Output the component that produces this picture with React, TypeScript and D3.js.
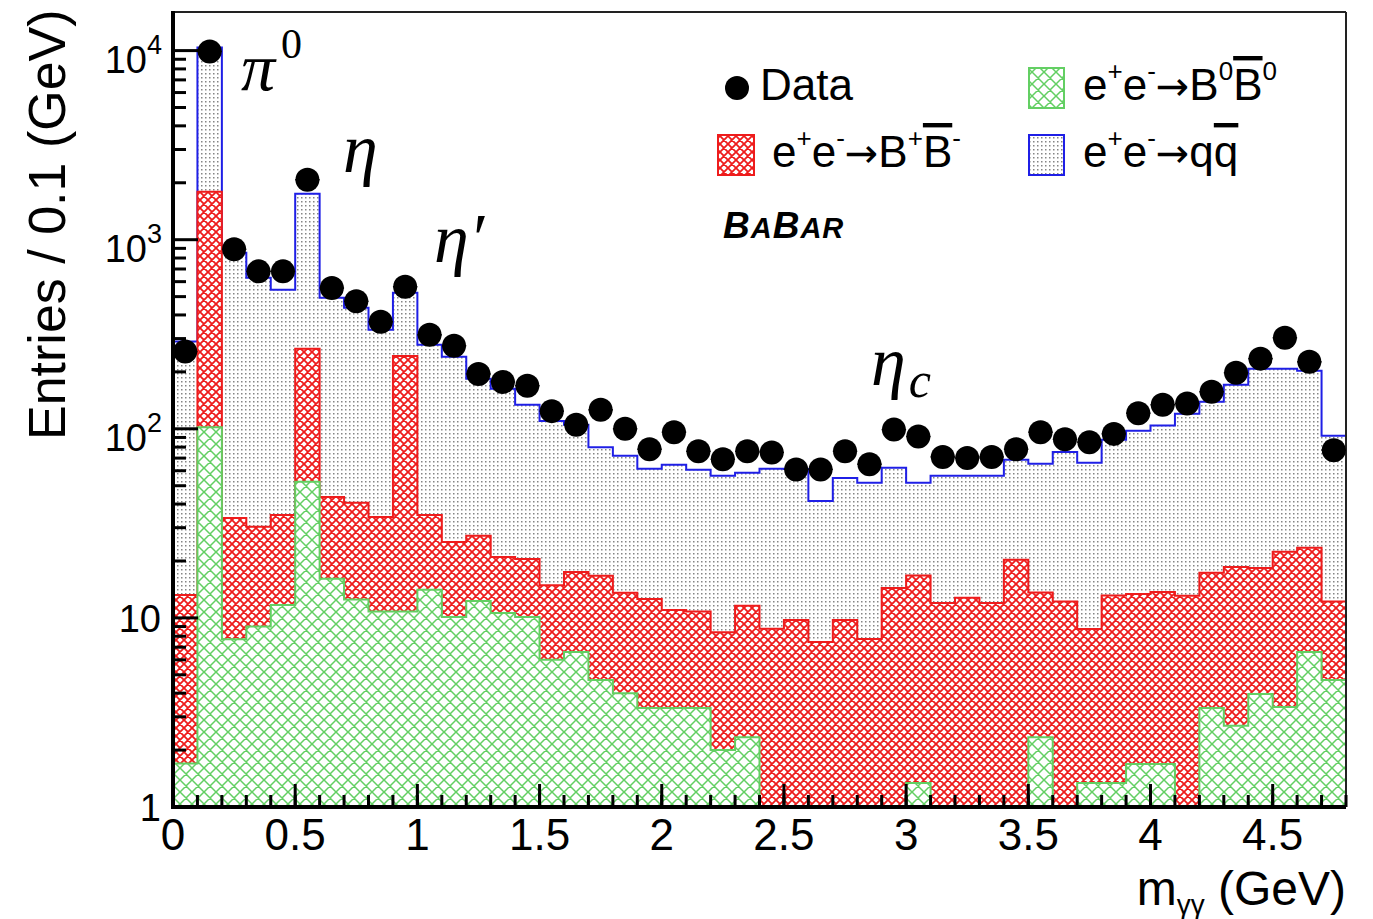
import React from 'react';
import * as d3 from 'd3';

// ---------------- data ----------------
const N_BINS = 48;
const BIN_WIDTH = 0.1;
const X_MAX = 4.8;
const Y_MIN = 1;
const Y_MAX = 16000;

// Observed entries per 0.1 GeV bin
const dataCounts = [
  256, 9900, 890, 680, 680, 2076, 555, 472, 368, 564,
  314, 275, 195, 177, 169, 124, 105, 126, 100, 78,
  96, 76, 69, 76, 75, 61, 61, 76, 65, 99,
  91, 71, 70, 71, 78, 96, 88, 85, 94, 121,
  134, 136, 157, 198, 235, 303, 226, 77,
];

// MC: e+e- -> B0 B0bar (bottom of stack)
const bbNeutral = [
  1.7, 102, 7.7, 9.0, 11.7, 52.5, 16.1, 12.5, 10.8, 10.8,
  14.1, 10.1, 12.3, 10.6, 10.1, 6.0, 6.6, 4.7, 4.0, 3.34,
  3.34, 3.34, 2.0, 2.34, 0, 0, 0, 0, 0, 0,
  1.34, 0, 0, 0, 0, 2.34, 0, 1.34, 1.34, 1.69,
  1.69, 0, 3.34, 2.69, 3.96, 3.38, 6.6, 4.7,
];

// MC: e+e- -> B+ B-
const bbCharged = [
  11.5, 1693, 26.1, 21.3, 23.3, 212.5, 27.5, 28.1, 23.4, 232,
  20.9, 15.1, 14.9, 10.4, 10.4, 8.9, 10.9, 12.0, 9.6, 9.26,
  7.66, 7.46, 6.4, 9.26, 8.75, 9.76, 7.46, 9.76, 7.74, 14.4,
  15.4, 12.0, 12.8, 12.0, 20.3, 11.3, 12.2, 7.4, 11.8, 11.7,
  12.0, 13.1, 14.0, 15.9, 14.4, 19.0, 16.9, 7.5,
];

// MC: e+e- -> q qbar (top of stack)
const qqbar = [
  276, 8575, 819, 599, 508, 1485, 449, 396, 300, 281,
  243, 215, 157, 142, 113.5, 95, 87.5, 63.3, 58.4, 48.8,
  53.5, 49.9, 48, 46.9, 52.65, 51.6, 34.1, 45.2, 44.1, 47.8,
  35.1, 44.4, 43.6, 44.4, 48.2, 51.7, 63.3, 57.3, 74.4, 84.2,
  90.3, 106.9, 121.7, 152.4, 189.6, 185.6, 179.5, 79.8,
];

const xMajorTicks = [0, 0.5, 1, 1.5, 2, 2.5, 3, 3.5, 4, 4.5];
const xTickLabels = ['0', '0.5', '1', '1.5', '2', '2.5', '3', '3.5', '4', '4.5'];
const yMajorTicks = [1, 10, 100, 1000, 10000];
const yTickBase = ['1', '10', '10', '10', '10'];
const yTickExp = ['', '', '2', '3', '4'];

const SANS = 'Liberation Sans, Arial, Helvetica, sans-serif';
const SERIF = 'Liberation Serif, Times New Roman, serif';
const ARROW_FONT = 'DejaVu Sans, sans-serif';

const RED = '#ee1c1c';
const GREEN = '#63cf63';
const BLUE = '#1f1fe6';

export default function App() {
  const W = 1373;
  const H = 919;
  const frame = { left: 173, right: 1346, top: 12, bottom: 807 };

  const x = d3.scaleLinear().domain([0, X_MAX]).range([frame.left, frame.right]);
  const y = d3.scaleLog().domain([Y_MIN, Y_MAX]).range([frame.bottom, frame.top]).clamp(true);

  const binEdges = d3.range(N_BINS + 1).map((i) => i * BIN_WIDTH);
  const rows = d3.range(N_BINS).map((i) => ({ b0: bbNeutral[i], bpm: bbCharged[i], qq: qqbar[i] }));
  const stacked = d3.stack<any>().keys(['b0', 'bpm', 'qq'])(rows);
  const topsOf = (k: number) => {
    const arr = stacked[k].map((d) => d[1]);
    return [...arr, arr[arr.length - 1]];
  };

  const area = d3
    .area<number>()
    .curve(d3.curveStepAfter)
    .x((_, i) => x(binEdges[i]))
    .y0(y(Y_MIN))
    .y1((v) => y(Math.max(v, Y_MIN)));

  const greenPath = area(topsOf(0)) || '';
  const redPath = area(topsOf(1)) || '';
  const grayPath = area(topsOf(2)) || '';

  // minor y ticks
  const yMinor: number[] = [];
  for (let d = 0; d <= 4; d++) {
    for (let k = 2; k <= 9; k++) {
      const v = k * Math.pow(10, d);
      if (v <= Y_MAX) yMinor.push(v);
    }
  }
  const xMinor = d3.range(0, N_BINS + 1).map((i) => i * BIN_WIDTH).filter((v) => v <= X_MAX + 1e-9);

  const supSize = 26;
  const legFont = 44;

  return (
    <svg
      width={W}
      height={H}
      viewBox={`0 0 ${W} ${H}`}
      style={{ position: 'absolute', left: 0, top: 0, background: '#fff' }}
    >
      <defs>
        <pattern id="dots" patternUnits="userSpaceOnUse" width={4} height={4}>
          <rect width={4} height={4} fill="#fff" />
          <rect x={1} y={1} width={1.5} height={1.5} fill="#858585" />
        </pattern>
        <pattern id="redHatch" patternUnits="userSpaceOnUse" width={8} height={8}>
          <rect width={8} height={8} fill="#fff" />
          <path d="M0,0 L8,8 M0,8 L8,0 M-1,1 L1,-1 M7,9 L9,7 M-1,7 L1,9 M7,-1 L9,1" stroke={RED} strokeWidth={1.8} />
        </pattern>
        <pattern id="greenHatch" patternUnits="userSpaceOnUse" width={12} height={12}>
          <rect width={12} height={12} fill="#fff" />
          <path d="M0,0 L12,12 M0,12 L12,0 M-1,1 L1,-1 M11,13 L13,11 M-1,11 L1,13 M11,-1 L13,1" stroke={GREEN} strokeWidth={1.5} />
        </pattern>
        <clipPath id="plotClip">
          <rect x={frame.left} y={frame.top} width={frame.right - frame.left} height={frame.bottom - frame.top} />
        </clipPath>
      </defs>

      {/* stacked histograms */}
      <g clipPath="url(#plotClip)">
        <path d={grayPath} fill="url(#dots)" stroke={BLUE} strokeWidth={2} />
        <path d={redPath} fill="url(#redHatch)" stroke={RED} strokeWidth={2} />
        <path d={greenPath} fill="url(#greenHatch)" stroke={GREEN} strokeWidth={2} />
      </g>

      {/* frame */}
      <line x1={frame.left} x2={frame.right} y1={frame.top} y2={frame.top} stroke="#222" strokeWidth={2} />
      <line x1={frame.right} x2={frame.right} y1={frame.top} y2={frame.bottom} stroke="#222" strokeWidth={2} />

      {/* y ticks */}
      {yMajorTicks.map((v) => (
        <line key={'ym' + v} x1={frame.left} x2={frame.left + 25} y1={y(v)} y2={y(v)} stroke="#000" strokeWidth={3} />
      ))}
      {yMinor.map((v) => (
        <line key={'yn' + v} x1={frame.left} x2={frame.left + 13} y1={y(v)} y2={y(v)} stroke="#000" strokeWidth={3} />
      ))}
      {/* x ticks */}
      {xMinor.map((v, i) => (
        <line key={'xn' + i} x1={x(v)} x2={x(v)} y1={frame.bottom} y2={frame.bottom - 12} stroke="#000" strokeWidth={3} />
      ))}
      {xMajorTicks.map((v) => (
        <line key={'xm' + v} x1={x(v)} x2={x(v)} y1={frame.bottom} y2={frame.bottom - 23} stroke="#000" strokeWidth={3} />
      ))}

      {/* axes */}
      <line x1={frame.left} x2={frame.left} y1={frame.top - 1} y2={frame.bottom + 2} stroke="#000" strokeWidth={4} />
      <line x1={frame.left - 2} x2={frame.right} y1={frame.bottom} y2={frame.bottom} stroke="#000" strokeWidth={4} />

      {/* x tick labels */}
      {xMajorTicks.map((v, i) => (
        <text key={'xl' + v} x={x(v)} y={frame.bottom + 43} textAnchor="middle" fontFamily={SANS} fontSize={44} fill="#000">
          {xTickLabels[i]}
        </text>
      ))}

      {/* y tick labels */}
      {yMajorTicks.map((v, i) =>
        yTickExp[i] ? (
          <text key={'yl' + v} x={frame.left - 11} y={y(v) + 22} textAnchor="end" fontFamily={SANS} fontSize={38} fill="#000">
            {yTickBase[i]}
            <tspan fontSize={27} dy={-19}>{yTickExp[i]}</tspan>
          </text>
        ) : (
          <text key={'yl' + v} x={frame.left - 12} y={y(v) + 14} textAnchor="end" fontFamily={SANS} fontSize={38} fill="#000">
            {yTickBase[i]}
          </text>
        )
      )}

      {/* axis titles */}
      <text
        transform={`translate(65, 440) rotate(-90)`}
        textAnchor="start"
        fontFamily={SANS}
        fontSize={52}
        fill="#000"
      >
        Entries / 0.1 (GeV)
      </text>
      <text x={frame.right} y={905} textAnchor="end" fontFamily={SANS} fontSize={48} fill="#000">
        m<tspan fontSize={28} dy={9}>γγ</tspan>
        <tspan dy={-9}> (GeV)</tspan>
      </text>

      {/* data points */}
      <g>
        {dataCounts.map((n, i) => {
          const cx = x(binEdges[i] + BIN_WIDTH / 2);
          const cy = y(n);
          const err = Math.sqrt(n);
          return (
            <g key={'d' + i}>
              <line x1={x(binEdges[i])} x2={x(binEdges[i + 1])} y1={cy} y2={cy} stroke="#000" strokeWidth={1.5} />
              <line x1={cx} x2={cx} y1={y(n + err)} y2={y(Math.max(n - err, Y_MIN))} stroke="#000" strokeWidth={1.5} />
              <circle cx={cx} cy={cy} r={12} fill="#000" />
            </g>
          );
        })}
      </g>

      {/* legend */}
      <g fontFamily={SANS} fill="#000">
        <circle cx={737} cy={88} r={12} fill="#000" />
        <text x={760} y={100} fontSize={legFont}>Data</text>

        <rect x={718} y={135} width={36} height={40} fill="url(#redHatch)" stroke={RED} strokeWidth={2} />
        <text x={772} y={167} fontSize={legFont}>
          e<tspan fontSize={supSize} dy={-20}>+</tspan>
          <tspan dy={20}>e</tspan>
          <tspan fontSize={supSize} dy={-20}>-</tspan>
          <tspan dy={20} fontFamily={ARROW_FONT} fontSize={40}>→</tspan>
          <tspan>B</tspan>
          <tspan fontSize={supSize} dy={-20}>+</tspan>
          <tspan dy={20} style={{ textDecoration: 'overline' }}>B</tspan>
          <tspan fontSize={supSize} dy={-20}>-</tspan>
        </text>

        <rect x={1029} y={68} width={35} height={40} fill="url(#greenHatch)" stroke={GREEN} strokeWidth={2} />
        <text x={1083} y={100} fontSize={legFont}>
          e<tspan fontSize={supSize} dy={-20}>+</tspan>
          <tspan dy={20}>e</tspan>
          <tspan fontSize={supSize} dy={-20}>-</tspan>
          <tspan dy={20} fontFamily={ARROW_FONT} fontSize={40}>→</tspan>
          <tspan>B</tspan>
          <tspan fontSize={supSize} dy={-20}>0</tspan>
          <tspan dy={20} style={{ textDecoration: 'overline' }}>B</tspan>
          <tspan fontSize={supSize} dy={-20}>0</tspan>
        </text>

        <rect x={1029} y={135} width={35} height={40} fill="url(#dots)" stroke={BLUE} strokeWidth={2} />
        <text x={1083} y={167} fontSize={legFont}>
          e<tspan fontSize={supSize} dy={-20}>+</tspan>
          <tspan dy={20}>e</tspan>
          <tspan fontSize={supSize} dy={-20}>-</tspan>
          <tspan dy={20} fontFamily={ARROW_FONT} fontSize={40}>→</tspan>
          <tspan>q</tspan>
          <tspan style={{ textDecoration: 'overline' }}>q</tspan>
        </text>

        <text x={723} y={238} fontWeight="bold" fontStyle="italic" letterSpacing={1}>
          <tspan fontSize={37}>B</tspan>
          <tspan fontSize={29}>A</tspan>
          <tspan fontSize={37}>B</tspan>
          <tspan fontSize={29}>AR</tspan>
        </text>
      </g>

      {/* resonance labels */}
      <g fontFamily={SERIF} fontStyle="italic" fill="#000">
        <text x={241} y={90} fontSize={68}>
          π<tspan fontStyle="normal" fontSize={42} dy={-32} dx={6}>0</tspan>
        </text>
        <text x={343} y={172} fontSize={70}>η</text>
        <text x={434} y={262} fontSize={70}>η′</text>
        <text x={871} y={385} fontSize={70}>
          η<tspan fontSize={50} dx={3} dy={12}>c</tspan>
        </text>
      </g>
    </svg>
  );
}
